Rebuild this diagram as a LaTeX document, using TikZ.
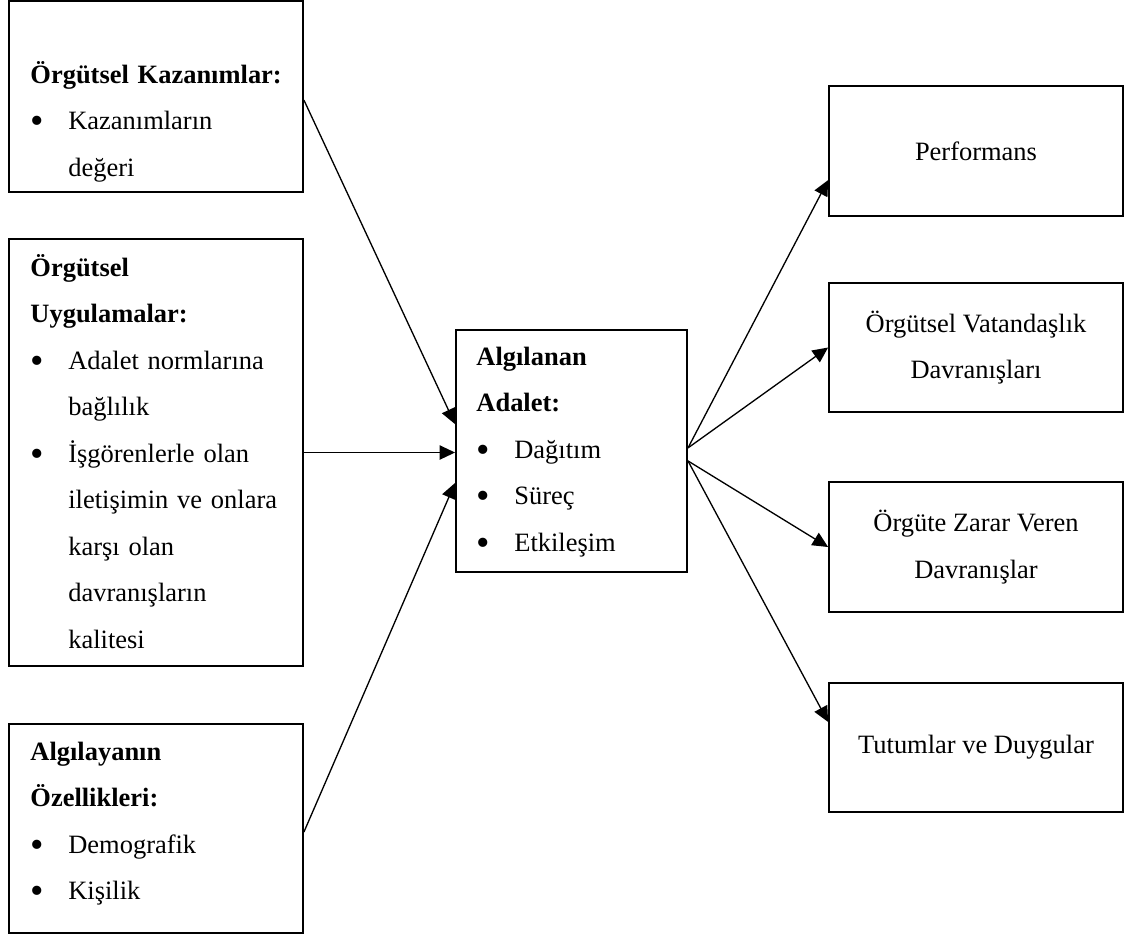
\documentclass[tikz,border=0pt]{standalone}
\usepackage{fontspec}
\usepackage{graphicx}
\setmainfont{Liberation Serif}
\usetikzlibrary{arrows.meta}
\newcommand{\blt}{\makebox[17.2pt][l]{\raisebox{-1.9pt}{\scalebox{1.45}{\textbullet}}}}
\newcommand{\cnt}{\hspace*{17.2pt}}

\begin{document}
\begin{tikzpicture}[x=0.4535pt,y=-0.4535pt,
        every node/.style={font=\fontsize{12pt}{21.1pt}\selectfont},
        side box/.style={draw,line width=0.85pt,minimum width=133.3pt,inner sep=0pt},
        mid box/.style={side box,minimum width=104.8pt,minimum height=109.7pt},
        out box/.style={side box,minimum height=58.8pt,align=center},
        list text/.style={anchor=base west,text width=125pt,align=left,inner sep=0pt},
        arr line/.style={draw,line width=0.6pt,-{Triangle[length=7pt,width=6.5pt]}},
    ]
    \useasboundingbox (0,0) rectangle (1128,936);
    \draw
    	(156,96.5) node[side box,minimum height=86.6pt] (kazbox) {}
    	(156,452.5) node[side box,minimum height=193.6pt] (uygbox) {}
    	(156,828.5) node[side box,minimum height=94.8pt] (ozbox) {}
    	(571.5,451) node[mid box] (adalet) {}
    	(976,151) node[out box] (perf) {Performans}
    	(976,347.5) node[out box] (vatan) {Örgütsel Vatandaşlık\\Davranışları}
    	(976,547) node[out box] (zarar) {Örgüte Zarar Veren\\Davranışlar}
    	(976,747.5) node[out box] (tutum) {Tutumlar ve Duygular}
	    ;
	\draw
		(30,83) node[list text] (kaz) {\textbf{Örgütsel Kazanımlar:}\\
			\blt Kazanımların\\
			\cnt değeri}
		(30,276) node[list text] (uyg) {\textbf{Örgütsel}\\
			\textbf{Uygulamalar:}\\
			\blt Adalet normlarına\\
			\cnt bağlılık\\
			\blt İşgörenlerle olan\\
			\cnt iletişimin ve onlara\\
			\cnt karşı olan\\
			\cnt davranışların\\
			\cnt kalitesi}
		(30,760) node[list text] (oz) {\textbf{Algılayanın}\\
			\textbf{Özellikleri:}\\
			\blt Demografik\\
			\blt Kişilik}
		(476,365) node[list text] (alg) {\textbf{Algılanan}\\
			\textbf{Adalet:}\\
			\blt Dağıtım\\
			\blt Süreç\\
			\blt Etkileşim}
		;
	\path
		([yshift=-1.6pt]kazbox.east) edge[arr line] ([yshift=12.2pt]adalet.west)
		(uygbox.east) edge[arr line] (uygbox.east -| adalet.west)
		([yshift=-1.6pt]ozbox.east) edge[arr line] ([yshift=-14.5pt]adalet.west)
		([yshift=1.4pt]adalet.east) edge[arr line] ([yshift=-13.2pt]perf.west)
		([yshift=1.4pt]adalet.east) edge[arr line] (vatan.west)
		([yshift=-4.5pt]adalet.east) edge[arr line] (zarar.west)
		([yshift=-4.5pt]adalet.east) edge[arr line] ([yshift=11.6pt]tutum.west)
		;
\end{tikzpicture}
\end{document}
